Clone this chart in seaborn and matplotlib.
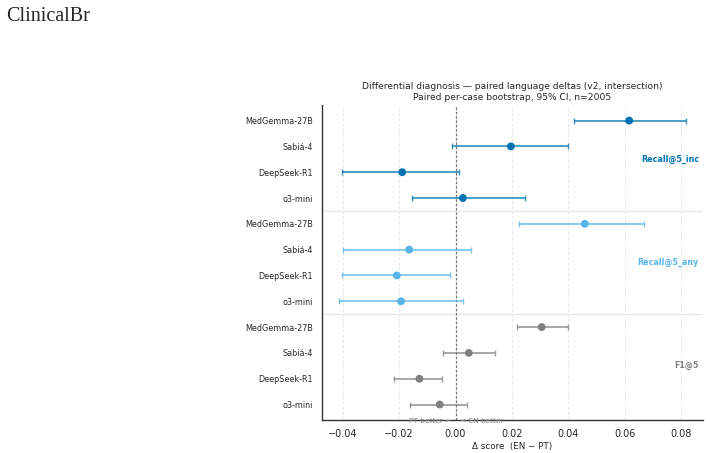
import matplotlib
matplotlib.use("Agg")
import matplotlib.pyplot as plt
import pandas as pd
import seaborn as sns

models = ["MedGemma-27B", "Sabiá-4", "DeepSeek-R1", "o3-mini"]
metrics = ["Recall@5_inc", "Recall@5_any", "F1@5"]
colors = {"Recall@5_inc": "#0072B2", "Recall@5_any": "#56B4E9", "F1@5": "#808080"}

delta_inc = [0.0615, 0.0196, -0.0189, 0.0026]
lo_inc = [0.0420, -0.0014, -0.0401, -0.0153]
hi_inc = [0.0815, 0.0400, 0.0011, 0.0247]

delta_any = [0.0458, -0.0164, -0.0208, -0.0193]
lo_any = [0.0225, -0.0397, -0.0401, -0.0413]
hi_any = [0.0668, 0.0053, -0.0019, 0.0027]

delta_f1 = [0.0305, 0.0047, -0.0128, -0.0056]
lo_f1 = [0.0217, -0.0044, -0.0219, -0.0160]
hi_f1 = [0.0400, 0.0140, -0.0048, 0.0040]

rows = []
for m, d, lo, hi in zip(metrics, [delta_inc, delta_any, delta_f1],
                        [lo_inc, lo_any, lo_f1], [hi_inc, hi_any, hi_f1]):
    for name, dv, l, h in zip(models, d, lo, hi):
        rows.append((m, name, dv, l, h))
df = pd.DataFrame(rows, columns=["metric", "model", "delta", "lo", "hi"])
df["pos"] = range(len(df))

sns.set_style("white")
plt.rcParams["font.family"] = ["DejaVu Sans"]

fig = plt.figure(figsize=(7.1, 4.53), dpi=100)
ax = fig.add_axes([0.4535, 0.0728, 0.5365, 0.6952])

for m in metrics:
    sub = df[df.metric == m]
    c = colors[m]
    ax.errorbar(sub["delta"], sub["pos"],
                xerr=[sub["delta"] - sub["lo"], sub["hi"] - sub["delta"]],
                fmt="none", ecolor=c, alpha=0.75, elinewidth=1.3,
                capsize=2.5, capthick=1.0, zorder=2)
sns.scatterplot(data=df, x="delta", y="pos", hue="metric", palette=colors,
                s=32, edgecolor="none", legend=False, ax=ax, zorder=3)

ax.axvline(0, color="0.45", lw=0.9, ls=(0, (2, 1.5)), zorder=1)
for sep in [3.5, 7.5]:
    ax.axhline(sep, color="0.9", lw=0.9, zorder=0)

ax.set_yticks(df["pos"])
ax.set_yticklabels(df["model"], fontsize=5.8)
ax.set_ylim(11.6, -0.6)
ax.set_xlim(-0.0473, 0.0876)
ax.set_xticks([-0.04, -0.02, 0.0, 0.02, 0.04, 0.06, 0.08])
ax.set_xticklabels(["\u22120.04", "\u22120.02", "0.00", "0.02", "0.04", "0.06", "0.08"])
ax.tick_params(axis="x", labelsize=7, length=3, width=0.8, colors="0.15")
ax.tick_params(axis="y", length=3, width=0.8, colors="0.15")
ax.grid(axis="x", color="0.92", lw=0.7, ls="--")
ax.set_axisbelow(True)
ax.set_xlabel("\u0394 score  (EN \u2212 PT)", fontsize=6.3, labelpad=2)
ax.set_ylabel("")

for spine in ["top", "right"]:
    ax.spines[spine].set_visible(False)
for spine in ["left", "bottom"]:
    ax.spines[spine].set_color("0.2")
    ax.spines[spine].set_linewidth(1.0)

for i, m in enumerate(metrics):
    ax.text(0.99, (i * 4 + 1.5), m, transform=ax.get_yaxis_transform(),
            ha="right", va="center", fontsize=5.8, fontweight="bold",
            color=colors[m])

ax.text(-0.0015, 11.62, "PT better \u2190", ha="right", va="center",
        fontsize=5.3, color="0.5")
ax.text(0.0015, 11.62, "\u2192 EN better", ha="left", va="center",
        fontsize=5.3, color="0.5")

ax.set_title("Differential diagnosis \u2014 paired language deltas (v2, intersection)\n"
             "Paired per-case bootstrap, 95% CI, n=2005", fontsize=6.6, pad=4)

fig.text(0.008, 0.985, "ClinicalBr", ha="left", va="top", fontsize=14.5,
         family="Liberation Serif")

fig.savefig("out.png", dpi=100)
